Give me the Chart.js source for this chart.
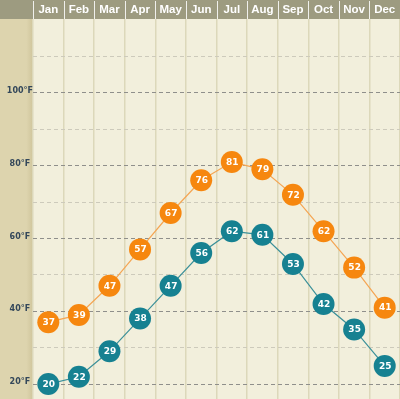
<!DOCTYPE html>
<html>
<head>
<meta charset="utf-8">
<script src="https://cdn.jsdelivr.net/npm/chart.js@4"></script>
<style>
  html, body { margin: 0; padding: 0; background: #f2efdc; }
  #wrap { width: 400px; height: 399px; position: relative; }
</style>
</head>
<body>
<div id="wrap"><canvas id="chart"></canvas></div>
<script>
const months = ['Jan', 'Feb', 'Mar', 'Apr', 'May', 'Jun', 'Jul', 'Aug', 'Sep', 'Oct', 'Nov', 'Dec'];
const highTemps = [37, 39, 47, 57, 67, 76, 81, 79, 72, 62, 52, 41];
const lowTemps = [20, 22, 29, 38, 47, 56, 62, 61, 53, 42, 35, 25];
const gridValues = [20, 30, 40, 50, 60, 70, 80, 90, 100, 110];
const labeledValues = [20, 40, 60, 80, 100];

const HEADER_H = 19;
const LEFT_W = 33;

// backgrounds: header strip, tan label column, cream plot area
const backdrop = {
    id: 'backdrop',
    beforeDraw(chart) {
        const { ctx, chartArea: a, width, scales: { x } } = chart;
        ctx.save();
        ctx.fillStyle = '#f2efdc';
        ctx.fillRect(a.left, a.top, a.right - a.left, a.bottom - a.top);

        const g = ctx.createLinearGradient(0, 0, a.left, 0);
        g.addColorStop(0, '#ddd4ae');
        g.addColorStop(0.8, '#ddd4ae');
        g.addColorStop(1, '#cfc59c');
        ctx.fillStyle = g;
        ctx.fillRect(0, a.top, a.left, chart.height - a.top);

        ctx.fillStyle = '#9d9b80';
        ctx.fillRect(0, 0, width, a.top);

        // white separators between month cells
        ctx.strokeStyle = 'rgba(255,255,255,0.85)';
        ctx.lineWidth = 1;
        const half = (x.getPixelForValue(1) - x.getPixelForValue(0)) / 2;
        for (let i = 0; i < months.length; i++) {
            const px = Math.round(x.getPixelForValue(i) - half) + 0.5;
            ctx.beginPath();
            ctx.moveTo(px, 1);
            ctx.lineTo(px, a.top);
            ctx.stroke();
        }
        ctx.restore();
    }
};

// values written inside the markers
const pointLabels = {
    id: 'pointLabels',
    afterDatasetsDraw(chart) {
        const { ctx } = chart;
        ctx.save();
        ctx.fillStyle = '#ffffff';
        ctx.font = 'bold 9px "DejaVu Sans"';
        ctx.textAlign = 'center';
        ctx.textBaseline = 'middle';
        chart.data.datasets.forEach((ds, di) => {
            chart.getDatasetMeta(di).data.forEach((pt, i) => {
                ctx.fillText(String(ds.data[i]), pt.x + 0.5, pt.y + 0.5);
            });
        });
        ctx.restore();
    }
};

new Chart(document.getElementById('chart'), {
    type: 'line',
    data: {
        labels: months,
        datasets: [
            {
                label: 'High',
                data: highTemps,
                borderColor: '#f5a552',
                borderWidth: 1.2,
                backgroundColor: '#f6870f',
                pointBackgroundColor: '#f6870f',
                pointBorderWidth: 0,
                pointRadius: 11,
                tension: 0,
                clip: false
            },
            {
                label: 'Low',
                data: lowTemps,
                borderColor: '#3a9099',
                borderWidth: 1.2,
                backgroundColor: '#168191',
                pointBackgroundColor: '#168191',
                pointBorderWidth: 0,
                pointRadius: 11,
                tension: 0,
                clip: false
            }
        ]
    },
    options: {
        responsive: true,
        maintainAspectRatio: false,
        animation: false,
        layout: { padding: 0, autoPadding: false },
        plugins: {
            legend: { display: false },
            tooltip: { enabled: false }
        },
        elements: { point: { hoverRadius: 11 } },
        scales: {
            x: {
                position: 'top',
                offset: true,
                border: { display: false },
                grid: {
                    offset: true,
                    drawTicks: false,
                    color: '#dcd8ba',
                    lineWidth: 1.5
                },
                ticks: {
                    color: '#ffffff',
                    font: { family: '"Liberation Sans", Arial', size: 11.5, weight: 'bold' },
                    padding: 2,
                    maxRotation: 0,
                    autoSkip: false
                },
                afterFit(scale) {
                    scale.height = HEADER_H;
                    scale.paddingLeft = 0;
                    scale.paddingRight = 0;
                }
            },
            y: {
                min: 15.9,
                max: 120.3,
                afterBuildTicks(scale) {
                    scale.ticks = gridValues.map(v => ({ value: v }));
                },
                grid: {
                    drawTicks: false,
                    color: ctx => labeledValues.includes(ctx.tick && ctx.tick.value) ? '#8f8f8b' : '#cdcabb',
                    lineWidth: 1
                },
                border: { display: false, dash: [4, 3] },
                ticks: {
                    color: '#33475a',
                    font: { family: '"DejaVu Sans"', size: 8, weight: 'bold' },
                    padding: 0,
                    crossAlign: 'center',
                    labelOffset: -2,
                    callback: v => labeledValues.includes(v) ? v + '°F' : ''
                },
                afterFit(scale) {
                    scale.width = LEFT_W;
                    scale.paddingTop = 0;
                    scale.paddingBottom = 0;
                }
            }
        }
    },
    plugins: [backdrop, pointLabels]
});
</script>
</body>
</html>
